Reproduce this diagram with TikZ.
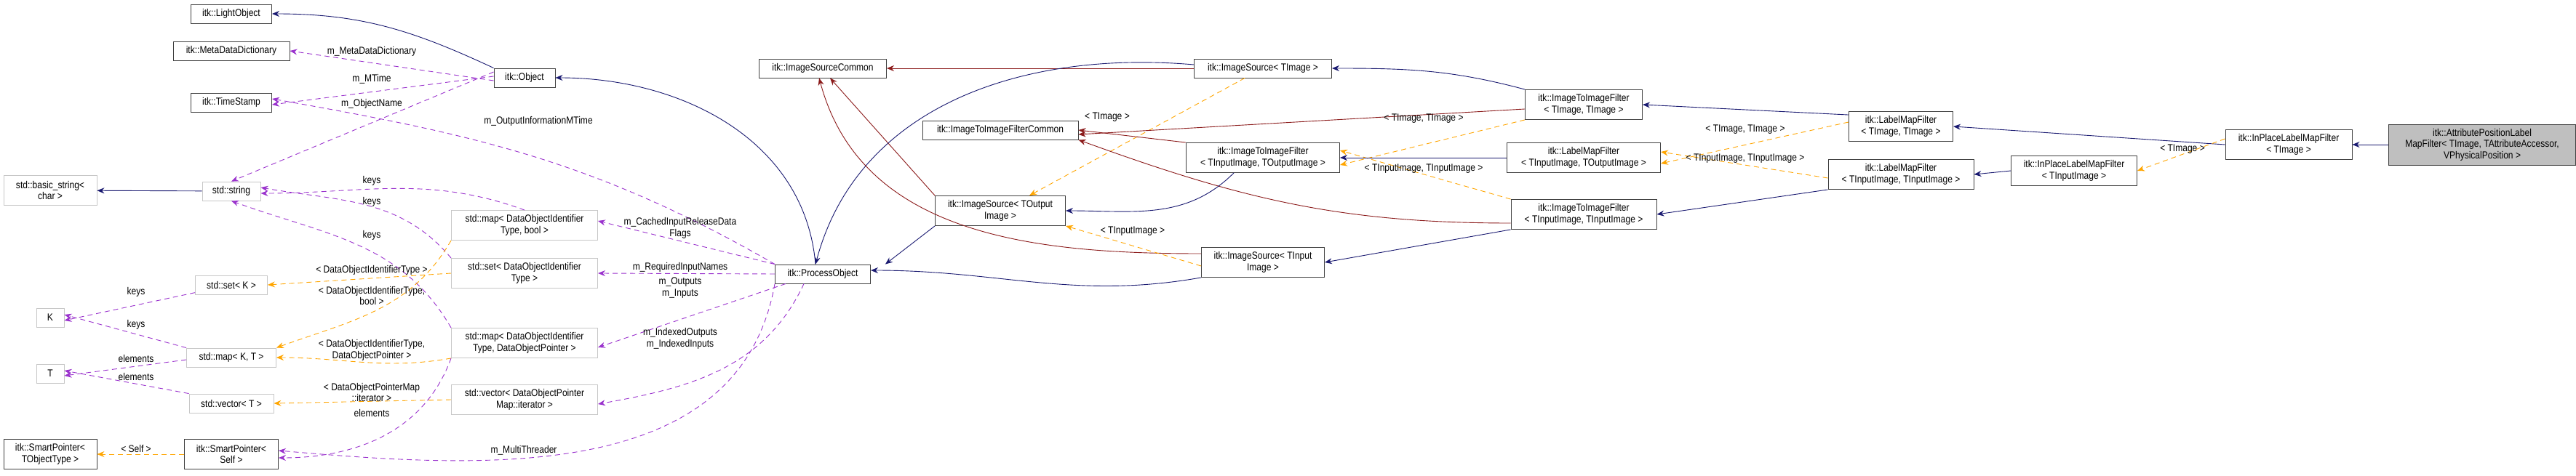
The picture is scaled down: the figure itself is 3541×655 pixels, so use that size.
\documentclass[tikz,border=0pt]{standalone}
\usepackage{fontspec}
\setmainfont{Liberation Sans}
\newfontfamily\narrowf[FakeStretch=0.86]{Liberation Sans}
\usetikzlibrary{arrows.meta}
\definecolor{navyc}{HTML}{191970}
\definecolor{redc}{HTML}{8B1A1A}
\definecolor{purc}{HTML}{9A32CD}
\definecolor{orgc}{HTML}{FFA500}
\newcommand\lab{\narrowf\fontsize{14}{15.5}\selectfont}
\tikzset{
 box/.style={draw=black!75,line width=0.9pt,fill=white,inner sep=1pt,align=center,font=\lab,minimum height=26pt},
 gbox/.style={box,draw=black!22},
 tw/.style={minimum height=41pt},
 inh/.style={draw=navyc,line width=0.9pt,-{Stealth[length=10pt,width=8pt]}},
 rinh/.style={draw=redc,line width=0.9pt,-{Stealth[length=10pt,width=8pt]}},
 use/.style={draw=purc,line width=0.9pt,dash pattern=on 7pt off 5pt,-{Stealth[length=10pt,width=8pt]}},
 tpl/.style={draw=orgc,line width=0.9pt,dash pattern=on 7pt off 5pt,-{Stealth[length=10pt,width=8pt]}},
 lbl/.style={font=\lab,align=center,inner sep=0pt}
}
\begin{document}
\begin{tikzpicture}[x=1pt,y=-1pt]
\useasboundingbox (0,0) rectangle (3541,655);
% left column
\node[box,minimum width=111pt] (light) at (318,19) {itk::LightObject};
\node[box,minimum width=160pt] (mdd) at (318,70) {itk::MetaDataDictionary};
\node[box,minimum width=111pt] (ts) at (318,141) {itk::TimeStamp};
\node[gbox,tw,minimum width=128pt] (bstr) at (69,262) {std::basic\_string\textless\\char \textgreater};
\node[gbox,minimum width=80pt] (str) at (318,263) {std::string};
\node[gbox,minimum width=99pt] (setk) at (318,392) {std::set\textless\ K \textgreater};
\node[gbox,minimum width=38pt] (K) at (69,437) {K};
\node[gbox,minimum width=123pt] (mapkt) at (318,492) {std::map\textless\ K, T \textgreater};
\node[gbox,minimum width=38pt] (T) at (69,514) {T};
\node[gbox,minimum width=116pt] (vect) at (318,555) {std::vector\textless\ T \textgreater};
\node[box,tw,minimum width=128pt] (spo) at (69,625) {itk::SmartPointer\textless\\TObjectType \textgreater};
\node[box,tw,minimum width=129pt] (sps) at (318,625) {itk::SmartPointer\textless\\Self \textgreater};
% middle
\node[box,minimum width=84pt] (obj) at (721,107) {itk::Object};
\node[gbox,tw,minimum width=201pt] (mapb) at (721,310) {std::map\textless\ DataObjectIdentifier\\Type, bool \textgreater};
\node[gbox,tw,minimum width=201pt] (setd) at (721,376) {std::set\textless\ DataObjectIdentifier\\Type \textgreater};
\node[gbox,tw,minimum width=201pt] (mapp) at (721,472) {std::map\textless\ DataObjectIdentifier\\Type, DataObjectPointer \textgreater};
\node[gbox,tw,minimum width=201pt] (vecp) at (721,550) {std::vector\textless\ DataObjectPointer\\Map::iterator \textgreater};
\node[box,minimum width=175pt] (isc) at (1131,94) {itk::ImageSourceCommon};
\node[box,minimum width=131pt] (po) at (1131,377) {itk::ProcessObject};
\node[box,minimum width=214pt] (itifc) at (1375,179) {itk::ImageToImageFilterCommon};
\node[box,tw,minimum width=179pt] (iso) at (1375,290) {itk::ImageSource\textless\ TOutput\\Image \textgreater};
% right
\node[box,minimum width=189pt] (isti) at (1736,94) {itk::ImageSource\textless\ TImage \textgreater};
\node[box,tw,minimum width=211pt] (itifio) at (1736,217) {itk::ImageToImageFilter\\\textless\ TInputImage, TOutputImage \textgreater};
\node[box,tw,minimum width=169pt] (isin) at (1736,361) {itk::ImageSource\textless\ TInput\\Image \textgreater};
\node[box,tw,minimum width=161pt] (itiftt) at (2177,144) {itk::ImageToImageFilter\\\textless\ TImage, TImage \textgreater};
\node[box,tw,minimum width=211pt] (lmfio) at (2177,217) {itk::LabelMapFilter\\\textless\ TInputImage, TOutputImage \textgreater};
\node[box,tw,minimum width=200pt] (itifii) at (2177,295) {itk::ImageToImageFilter\\\textless\ TInputImage, TInputImage \textgreater};
\node[box,tw,minimum width=143pt] (lmftt) at (2613,174) {itk::LabelMapFilter\\\textless\ TImage, TImage \textgreater};
\node[box,tw,minimum width=200pt] (lmfii) at (2613,240) {itk::LabelMapFilter\\\textless\ TInputImage, TInputImage \textgreater};
\node[box,tw,minimum width=173pt] (ipin) at (2851,235) {itk::InPlaceLabelMapFilter\\\textless\ TInputImage \textgreater};
\node[box,tw,minimum width=174pt] (ipt) at (3146,199) {itk::InPlaceLabelMapFilter\\\textless\ TImage \textgreater};
\node[box,minimum height=56pt,minimum width=257pt,fill=black!25] (attr) at (3412,199) {itk::AttributePositionLabel\\MapFilter\textless\ TImage, TAttributeAccessor,\\VPhysicalPosition \textgreater};
% edges left
\draw[inh] (obj.north west) to[out=155,in=0] (light.east);
\draw[use] ([yshift=-4pt]obj.west) -- (mdd.east);
\draw[use] ([yshift=2pt]obj.west) -- ([yshift=-3pt]ts.east);
\draw[use] ([yshift=8pt]obj.west) -- (str.north);
\draw[use] (po.north west) to[out=150,in=-10] ([yshift=5pt]ts.east);
\draw[inh] (str) -- (bstr);
\draw[use] (mapb.north) to[out=160,in=0] ([yshift=-3pt]str.east);
\draw[use] (setd.north west) to[out=130,in=-10] ([yshift=5pt]str.east);
\draw[use] (mapp.north west) to[out=120,in=-20] (str.south) ;
\draw[use] (setk) -- ([yshift=-4pt]K.east);
\draw[use] (mapkt.north west) -- ([yshift=4pt]K.east);
\draw[use] ([yshift=-3pt]mapkt.west) -- ([yshift=-3pt]T.east);
\draw[use] (vect.north west) -- ([yshift=4pt]T.east);
\draw[tpl] (setd.west) -- (setk.east);
\draw[tpl] (mapb.south west) to[out=-120,in=20] (mapkt.north east);
\draw[tpl] (mapp.south west) to[out=190,in=0] (mapkt.east);
\draw[tpl] (vecp.west) -- (vect.east);
\draw[use] (mapp.south west) to[out=-110,in=0] ([yshift=-5pt]sps.east);
\draw[tpl] (sps) -- (spo);
\draw[use] (po.south west) to[out=-100,in=-5] ([yshift=5pt]sps.east);
\draw[use] (po.north west) -- ([yshift=6pt]mapb.east);
\draw[use] (po.west) -- (setd.east);
\draw[use] ([xshift=15pt]po.south west) -- ([yshift=-6pt]mapp.east);
\draw[use] ([xshift=40pt]po.south west) to[out=-115,in=10] ([yshift=-6pt]vecp.east);
\draw[inh] ([xshift=-10pt]po.north) to[out=95,in=0] (obj.east);
% labels left
\node[lbl] (l1) at (511,71) {m\_MetaDataDictionary};
\node[lbl] (l2) at (511,109) {m\_MTime};
\node[lbl] (l3) at (511,143) {m\_ObjectName};
\node[lbl] (l4) at (740,167) {m\_OutputInformationMTime};
\node[lbl] (l5) at (511,249) {keys};
\node[lbl] (l6) at (511,278) {keys};
\node[lbl] (l7) at (511,324) {keys};
\node[lbl] (l8) at (187,402) {keys};
\node[lbl] (l9) at (187,447) {keys};
\node[lbl] (l10) at (187,493) {elements};
\node[lbl] (l11) at (187,518) {elements};
\node[lbl] (l12) at (511,372) {\textless\ DataObjectIdentifierType \textgreater};
\node[lbl] (l13) at (511,407) {\textless\ DataObjectIdentifierType,\\bool \textgreater};
\node[lbl] (l14) at (511,482) {\textless\ DataObjectIdentifierType,\\DataObjectPointer \textgreater};
\node[lbl] (l15) at (511,540) {\textless\ DataObjectPointerMap\\::iterator \textgreater};
\node[lbl] (l16) at (511,568) {elements};
\node[lbl] (l17) at (187,617) {\textless\ Self \textgreater};
\node[lbl] (l18) at (720,620) {m\_MultiThreader};
\node[lbl] (l19) at (935,314) {m\_CachedInputReleaseData\\Flags};
\node[lbl] (l20) at (935,368) {m\_RequiredInputNames};
\node[lbl] (l21) at (935,396) {m\_Outputs\\m\_Inputs};
\node[lbl] (l22) at (935,466) {m\_IndexedOutputs\\m\_IndexedInputs};
% edges middle/right
\draw[inh] (iso.south west) -- ([xshift=20pt]po.north east);
\draw[rinh] (iso.north west) -- ([xshift=10pt]isc.south);
\draw[rinh] (isti.west) -- (isc.east);
\draw[inh] ([yshift=5pt]isti.west) to[out=175,in=75] ([xshift=-10pt]po.north);
\draw[rinh] ([yshift=12pt]isin.west) to[out=180,in=-75] ([xshift=-5pt]isc.south);
\draw[inh] (isin.south west) to[out=190,in=0] ([yshift=5pt]po.east);
\draw[tpl] ([xshift=-25pt]isti.south) -- ([xshift=40pt]iso.north);
\draw[tpl] ([yshift=-5pt]isin.west) -- (iso.south east);
\draw[rinh] ([yshift=-6pt]itiftt.west) -- ([yshift=-6pt]itifc.east);
\draw[rinh] (itifio.north west) -- (itifc.east);
\draw[rinh] ([yshift=-12pt]itifii.west) to[out=180,in=-20] (itifc.south east);
\draw[inh] ([xshift=-40pt]itifio.south) to[out=-135,in=0] (iso.east);
\draw[inh] (itiftt.north west) to[out=165,in=0] (isti.east);
\draw[inh] (itifii.south west) -- (isin.east);
\draw[tpl] (itiftt.south west) -- ([yshift=-10pt]itifio.east);
\draw[tpl] (itifii.north west) -- ([yshift=10pt]itifio.east);
\draw[inh] (lmfio.west) -- (itifio.east);
\draw[inh] ([yshift=-5pt]lmftt.north west) -- (itiftt.east);
\draw[tpl] ([yshift=6pt]lmftt.west) -- ([yshift=-8pt]lmfio.east);
\draw[tpl] ([yshift=-5pt]lmfii.west) -- ([yshift=8pt]lmfio.east);
\draw[inh] (lmfii.south west) -- (itifii.east);
\draw[inh] (ipt.west) -- (lmftt.east);
\draw[inh] (ipin.west) -- (lmfii.east);
\draw[tpl] ([yshift=8pt]ipt.west) -- (ipin.east);
\draw[inh] (attr.west) -- (ipt.east);
\node[lbl] (l23) at (1522,161) {\textless\ TImage \textgreater};
\node[lbl] (l24) at (1557,318) {\textless\ TInputImage \textgreater};
\node[lbl] (l25) at (1957,163) {\textless\ TImage, TImage \textgreater};
\node[lbl] (l26) at (1957,232) {\textless\ TInputImage, TInputImage \textgreater};
\node[lbl] (l27) at (2399,178) {\textless\ TImage, TImage \textgreater};
\node[lbl] (l28) at (2399,218) {\textless\ TInputImage, TInputImage \textgreater};
\node[lbl] (l29) at (3000,205) {\textless\ TImage \textgreater};
\end{tikzpicture}
\end{document}
